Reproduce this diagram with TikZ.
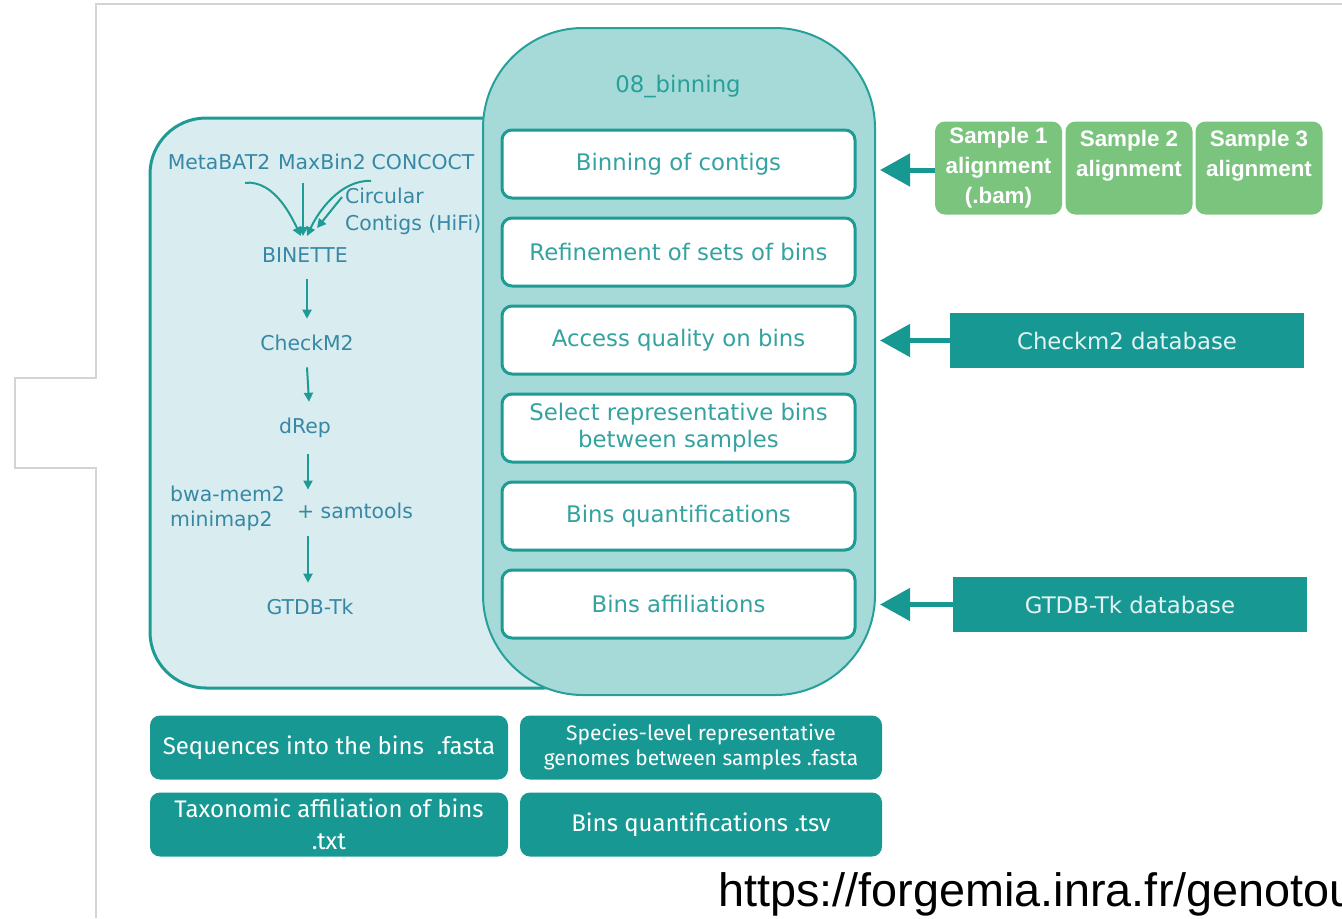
\documentclass[tikz,border=0pt]{standalone}
\usepackage{fontspec}
\setmainfont{DejaVu Sans}
\newfontfamily\arialfont{Liberation Sans}
\newfontfamily\outfont{Fira Sans}
\usetikzlibrary{arrows.meta}
\definecolor{framegray}{RGB}{212,212,212}
\definecolor{tealline}{RGB}{30,155,148}
\definecolor{tealbox}{RGB}{23,152,147}
\definecolor{colfill}{RGB}{166,218,217}
\definecolor{colline}{RGB}{40,160,154}
\definecolor{leftfill}{RGB}{217,237,240}
\definecolor{tooltext}{RGB}{55,136,165}
\definecolor{steptext}{RGB}{52,163,160}
\definecolor{samplegreen}{RGB}{122,196,125}
\tikzset{
  font=\fontsize{11.4}{13.5}\selectfont,
  % Set arrowhead
  >={Triangle[length=4.5pt, width=4.5pt]},
  % Outer frame
  frame/.style={draw=framegray, line width=0.6pt},
  % Box of the tools
  toolbox/.style={draw=tealline, fill=leftfill, line width=1.5pt,
    rounded corners=28pt},
  % Column of the steps
  column/.style={draw=colline, fill=colfill, line width=1pt,
    rounded corners=50pt},
  % Step of the column
  stepbox/.style={draw=tealline, fill=white, line width=1.5pt,
    rounded corners=5pt, minimum width=176.5pt, minimum height=34pt,
    inner sep=0pt, text=steptext, align=center},
  % Tool name
  tool/.style={text=tooltext, font=\fontsize{10.2}{12.5}\selectfont},
  % Tool arrows
  tool->/.style={->, draw=tealline, line width=1pt},
  % Input sample
  sample/.style={fill=samplegreen, rounded corners=5pt, minimum width=63.5pt,
    minimum height=46.5pt, inner sep=0pt, text=white, align=center,
    font=\arialfont\bfseries\fontsize{11.2}{15}\selectfont},
  % Database
  dbbox/.style={fill=tealbox, minimum width=177pt, minimum height=27.5pt,
    inner sep=0pt, text=white!88!tealbox},
  % Input arrows
  big->/.style={draw=tealbox, line width=2.5pt, shorten >=2pt,
    -{Triangle[length=15pt, width=16pt]}},
  % Output file
  outbox/.style={fill=tealbox, rounded corners=5pt, minimum height=32pt,
    inner sep=0pt, text=white, align=center,
    font=\outfont\fontsize{12}{16}\selectfont},
}

\begin{document}
\begin{tikzpicture}[x=0.5pt, y=-0.5pt]
  \useasboundingbox (0,0) rectangle (1342,918);
  \draw[frame] (1342,4) -- (96,4) -- (96,378) -- (15,378) -- (15,468)
    -- (96,468) -- (96,918);

  % tools
  \node[toolbox, minimum width=225pt, minimum height=285pt] (tools)
    at (375,403) {};
  \node[tool] (mb) at (219,162) {MetaBAT2};
  \node[tool] (mx) at (322,162) {MaxBin2};
  \node[tool] (cc) at (423,162) {CONCOCT};
  \node[tool, anchor=west, align=left, font=\fontsize{10.2}{13.5}\selectfont]
    (circ) at (338,211) {Circular\\Contigs (HiFi)};
  \node[tool, inner sep=8pt] (binette) at (305,255) {BINETTE};
  \node[tool, inner sep=8pt] (checkm) at (307,343) {CheckM2};
  \node[tool, inner sep=8pt] (drep) at (305,428) {dRep};
  \node[minimum height=23pt, inner sep=0pt] (map) at (308,513) {};
  \node[tool, anchor=east, align=left, font=\fontsize{10.2}{12.5}\selectfont]
    (bwa) at (292,508) {bwa-mem2\\minimap2};
  \node[tool, anchor=west] (samt) at (290,511) {+ samtools};
  \node[tool, inner sep=8pt] (gtdb) at (310,607) {GTDB-Tk};

  \coordinate (join) at (303,236);
  \draw[tool->] ([xshift=13pt, yshift=-3pt]mb.south)
    .. controls (275,180) and (292,218) .. ([xshift=-1pt]join);
  \draw[tool->] ([xshift=-9.5pt, yshift=-3pt]mx.south) -- (join);
  \draw[tool->] ([xshift=-26pt, yshift=-2pt]cc.south)
    .. controls (340,180) and (318,212) .. ([xshift=2pt]join);
  \draw[tool->] ([xshift=2pt, yshift=7pt]circ.west) -- (317,228);
  \draw[tool->] ([xshift=1pt]binette.south) -- (checkm.north);
  \draw[tool->] (checkm.south) -- ([xshift=1pt]checkm.south |- drep.north);
  \draw[tool->] (drep.south -| map) -- (map.north);
  \draw[tool->] (map.south) -- (map.south |- gtdb.north);

  % steps
  \node[column, minimum width=196pt, minimum height=333.5pt] (col)
    at (679,361.5) {};
  \node[text=colline] (title) at (678,87) {08\_binning};
  \node[stepbox] (s1) at (678.5,164) {Binning of contigs};
  \node[stepbox] (s2) at (678.5,252) {Refinement of sets of bins};
  \node[stepbox] (s3) at (678.5,340) {Access quality on bins};
  \node[stepbox] (s4) at (678.5,428) {Select representative bins\\between samples};
  \node[stepbox] (s5) at (678.5,516) {Bins quantifications};
  \node[stepbox] (s6) at (678.5,604) {Bins affiliations};

  % inputs
  \node[sample] (bam1) at (998.5,168) {Sample 1\\alignment\\(.bam)};
  \node[sample] (bam2) at (1129,168) {Sample 2\\alignment\\~};
  \node[sample] (bam3) at (1259,168) {Sample 3\\alignment\\~};
  \node[dbbox] (ckdb) at (1127,340.5) {Checkm2 database};
  \node[dbbox] (gtdbdb) at (1130,604.5) {GTDB-Tk database};
  \draw[big->] ([yshift=-1pt]bam1.west) -- ([yshift=-1pt]bam1.west -| col.east);
  \draw[big->] (ckdb.west) -- (ckdb.west -| col.east);
  \draw[big->] (gtdbdb.west) -- (gtdbdb.west -| col.east);

  % outputs
  \node[outbox, minimum width=179pt] (fasta) at (329,747.5)
    {Sequences into the bins\ \ .fasta};
  \node[outbox, minimum width=181pt, font=\outfont\fontsize{10.5}{12.5}\selectfont]
    (reps) at (701,747.5)
    {Species-level representative\\genomes between samples .fasta};
  \node[outbox, minimum width=179pt] (taxo) at (329,824.5)
    {Taxonomic affiliation of bins\\.txt};
  \node[outbox, minimum width=181pt] (quant) at (701,824.5)
    {Bins quantifications .tsv};

  \begin{scope}
    \clip (0,0) rectangle (1342,918);
    \node[anchor=base west, inner sep=0pt,
      font=\arialfont\fontsize{23.4}{28}\selectfont] (url) at (718,906)
      {https://forgemia.inra.fr/genotou};
  \end{scope}
\end{tikzpicture}
\end{document}
